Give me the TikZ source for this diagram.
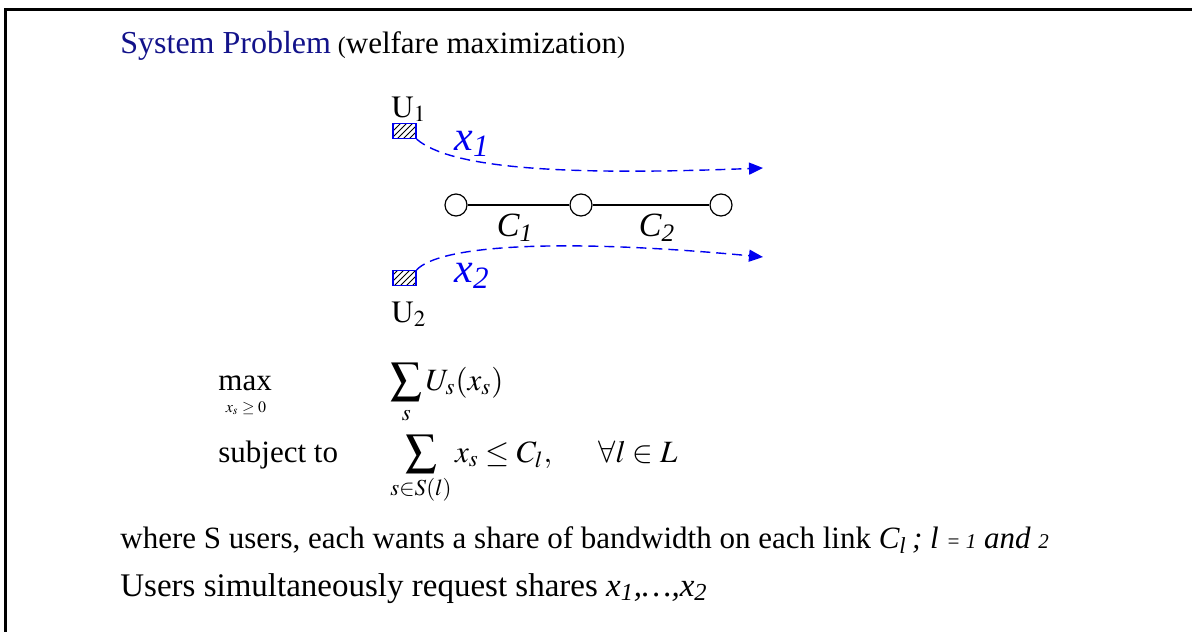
\documentclass[tikz,border=0pt]{standalone}
\usepackage{mathptmx}
\usepackage{fontspec}
\setmainfont{Liberation Serif}
\usetikzlibrary{arrows.meta,patterns}
\definecolor{sysnavy}{HTML}{12128A}
\definecolor{flowblue}{HTML}{0000F0}
\tikzset{
  usr/.style={draw=flowblue, pattern=north east lines, minimum width=11.5pt, minimum height=7.5pt, inner sep=0pt, line width=0.6pt},
  rtr/.style={circle, draw, fill=white, minimum size=11pt, inner sep=0pt, line width=0.6pt},
  lnk/.style={line width=0.8pt},
  flow/.style={-{Triangle[length=7pt,width=6pt]}, dashed, dash pattern=on 5pt off 3pt, line width=0.7pt, color=flowblue},
  tx/.style={anchor=base west, inner sep=0pt, font=\fontsize{15.5}{18}\selectfont},
  flw/.style={inner sep=0pt, font=\fontsize{21}{24}\selectfont\itshape, text=flowblue},
  lnklbl/.style={inner sep=0pt, font=\fontsize{17}{20}\selectfont\itshape},
}
\newcommand{\smallit}[1]{{\fontsize{10.5}{12}\selectfont\itshape #1}}
\begin{document}
\begin{tikzpicture}[x=0.5pt, y=-0.5pt]
  \useasboundingbox (0,0) rectangle (1192,632);
  \draw[line width=1.5pt] (1192,9.5) -- (5.5,9.5) -- (5.5,632);
  % title
  \node[tx, font=\fontsize{16}{18}\selectfont, text=sysnavy] (ttl) at (120,53) {System Problem};
  \node[tx] (sub) at ([xshift=3pt]ttl.base east) {{\fontsize{12}{14}\selectfont(}welfare maximization{\fontsize{12}{14}\selectfont)}};
  % users and links
  \node[usr] (u1) at (404.5,131) {};
  \node[usr] (u2) at (404.5,278) {};
  \node[tx] (l1) at (391,117) {$\mathrm{U}_1$};
  \node[tx] (l2) at (391,322) {$\mathrm{U}_2$};
  \foreach \n/\px in {a/456,b/581,c/721}
    \node[rtr] (\n) at (\px,205) {};
  \draw[lnk] (a) -- (b) -- (c);
  \node[lnklbl] (c1) at (515,228) {C\textsubscript{1}};
  \node[lnklbl] (c2) at (657,228) {C\textsubscript{2}};
  \coordinate (e1) at (763,168);
  \coordinate (e2) at (763,257);
  \draw[flow] (u1.south east) .. controls (450,168) and (560,176) .. (e1);
  \draw[flow] (u2.north east) .. controls (440,245) and (560,238) .. (e2);
  \node[flw] (x1) at (472,144) {x\textsubscript{1}};
  \node[flw] (x2) at (472,276) {x\textsubscript{2}};
  % problem
  \node[tx] (mx) at (218,390) {max};
  \node[anchor=north, inner sep=0pt, font=\fontsize{8}{9}\selectfont] (mxs) at (246,401) {$x_s\ge 0$};
  \node[tx] (obj) at (390,390) {$\displaystyle\sum_s U_s(x_s)$};
  \node[tx] (st) at (218,462) {subject to};
  \node[tx] (cst) at (390,462) {$\displaystyle\sum_{s\in S(l)} x_s \le C_l,$};
  \node[tx] (all) at (598,462) {$\forall l\in L$};
  % remarks
  \node[tx] (r1) at (120,548) {where S users, each wants a share of bandwidth on each link \textit{C\textsubscript{l}\,; l} \smallit{=~1} \textit{and}~\smallit{2}};
  \node[tx, font=\fontsize{16.5}{18}\selectfont] (r2) at (120,596) {Users simultaneously request shares \textit{x\textsubscript{1},…,x\textsubscript{2}}};
\end{tikzpicture}
\end{document}
